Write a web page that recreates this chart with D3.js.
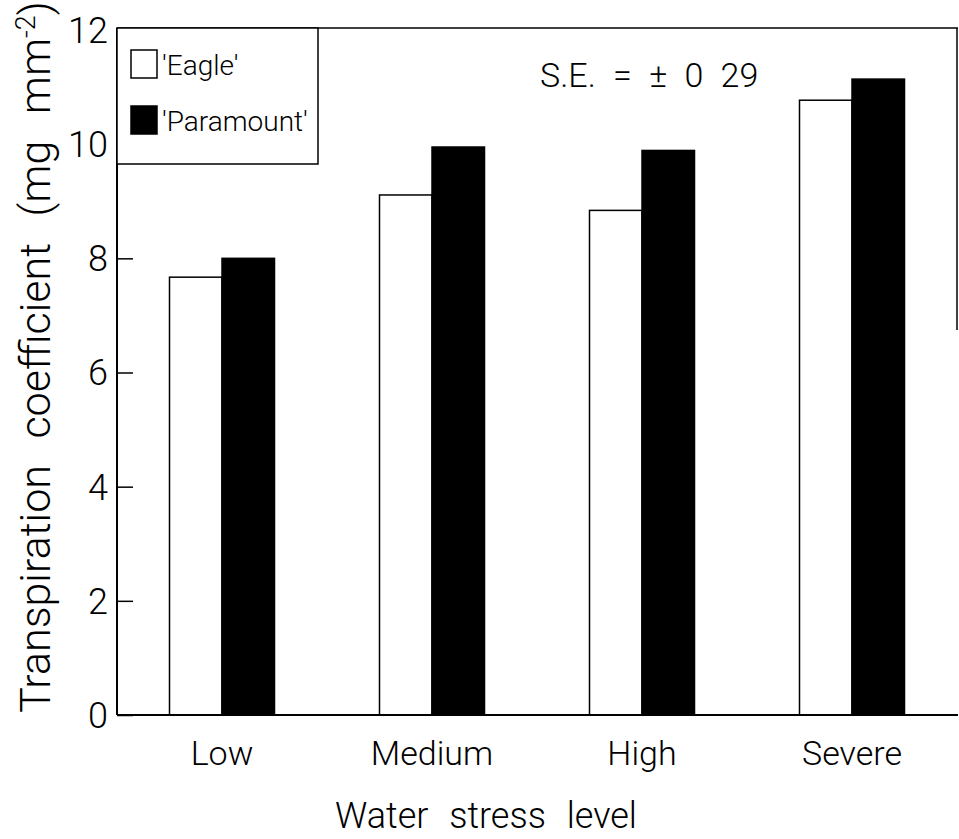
<!DOCTYPE html>
<html>
<head>
<meta charset="utf-8">
<script src="https://cdn.jsdelivr.net/npm/d3@7"></script>
<style>
  body { margin: 0; background: #fff; }
  svg text { font-family: Roboto, "Liberation Sans", sans-serif; font-weight: 300; fill: #000; }
</style>
</head>
<body>
<svg id="chart" width="959" height="839"></svg>
<script>
// chart values
const categories = ["Low", "Medium", "High", "Severe"];
const cultivars = ["'Eagle'", "'Paramount'"];
const eagleValues = [7.67, 9.11, 8.84, 10.77];
const paramountValues = [8.0, 9.95, 9.89, 11.14];
const yTicks = [0, 2, 4, 6, 8, 10, 12];
const seLabel = "S.E. = \u00B1 0 29";

const svg = d3.select("#chart");
// plot frame edges (window.top is taken, so prefix them)
const plotL = 117, plotR = 957, plotT = 28, plotB = 715;

const x = d3.scaleBand().domain(categories).range([plotL, plotR])
  .paddingInner(0.5).paddingOuter(0.25);
const xs = d3.scaleBand().domain(cultivars).range([0, x.bandwidth()]);
const y = d3.scaleLinear().domain([0, 12]).range([plotB, 30]);
const fillOf = d3.scaleOrdinal().domain(cultivars).range(["#fff", "#000"]);

// build rows for bars
const rows = [];
categories.forEach((c, i) => {
  rows.push({ cat: c, cult: cultivars[0], v: eagleValues[i] });
  rows.push({ cat: c, cult: cultivars[1], v: paramountValues[i] });
});

// bars
svg.append("g").selectAll("rect").data(rows).join("rect")
  .attr("x", d => x(d.cat) + xs(d.cult))
  .attr("y", d => y(d.v))
  .attr("width", xs.bandwidth())
  .attr("height", d => y(0) - y(d.v))
  .attr("fill", d => fillOf(d.cult))
  .attr("stroke", "#000")
  .attr("stroke-width", 1.5);

// left axis, ticks point inward
const yAxis = d3.axisRight(y).tickValues(yTicks).tickSize(16).tickFormat("");
const ga = svg.append("g").attr("transform", "translate(" + plotL + ",0)").call(yAxis);
ga.select(".domain").remove();
ga.selectAll("line").attr("stroke-width", 1.5);

svg.append("g").selectAll("text").data(yTicks).join("text")
  .attr("x", plotL - 9)
  .attr("y", d => y(d))
  .attr("dy", "0.36em")
  .attr("text-anchor", "end")
  .attr("font-size", 36)
  .text(d => d);

// frame lines
svg.append("line").attr("x1", plotL).attr("x2", plotL).attr("y1", plotT).attr("y2", plotB)
  .attr("stroke", "#000").attr("stroke-width", 2);
svg.append("line").attr("x1", plotL).attr("x2", plotR + 1).attr("y1", plotB).attr("y2", plotB)
  .attr("stroke", "#000").attr("stroke-width", 2);
svg.append("line").attr("x1", plotL).attr("x2", plotR + 1).attr("y1", plotT).attr("y2", plotT)
  .attr("stroke", "#000").attr("stroke-width", 1.5);
svg.append("line").attr("x1", plotR).attr("x2", plotR).attr("y1", plotT).attr("y2", 330)
  .attr("stroke", "#000").attr("stroke-width", 1.5);

// category labels
svg.append("g").selectAll("text").data(categories).join("text")
  .attr("x", d => x(d) + x.bandwidth() / 2)
  .attr("y", 765)
  .attr("text-anchor", "middle")
  .attr("font-size", 34)
  .text(d => d);

// axis titles
svg.append("text")
  .attr("x", 486).attr("y", 828)
  .attr("text-anchor", "middle")
  .attr("font-size", 36)
  .attr("word-spacing", 12)
  .text("Water stress level");

const yt = svg.append("text")
  .attr("transform", "translate(50," + 357 + ") rotate(-90)")
  .attr("text-anchor", "middle")
  .attr("font-size", 43)
  .attr("word-spacing", 16);
yt.append("tspan").text("Transpiration coefficient (mg mm");
yt.append("tspan").attr("dy", -15).attr("font-size", 27).text("-2");
yt.append("tspan").attr("dy", 15).text(")");

// S.E. note
svg.append("text")
  .attr("x", 540).attr("y", 87)
  .attr("font-size", 34)
  .attr("word-spacing", 9)
  .text(seLabel);

// legend box
const lg = svg.append("g");
lg.append("rect").attr("x", plotL).attr("y", plotT).attr("width", 201).attr("height", 136)
  .attr("fill", "#fff").attr("stroke", "#000").attr("stroke-width", 1.5);
lg.selectAll("rect.key").data(cultivars).join("rect").attr("class", "key")
  .attr("x", 131).attr("y", (d, i) => 50 + i * 56)
  .attr("width", 26).attr("height", 28)
  .attr("fill", d => fillOf(d)).attr("stroke", "#000").attr("stroke-width", 1.5);
lg.selectAll("text").data(cultivars).join("text")
  .attr("x", 162).attr("y", (d, i) => 75 + i * 56)
  .attr("font-size", 28)
  .text(d => d);
</script>
</body>
</html>
